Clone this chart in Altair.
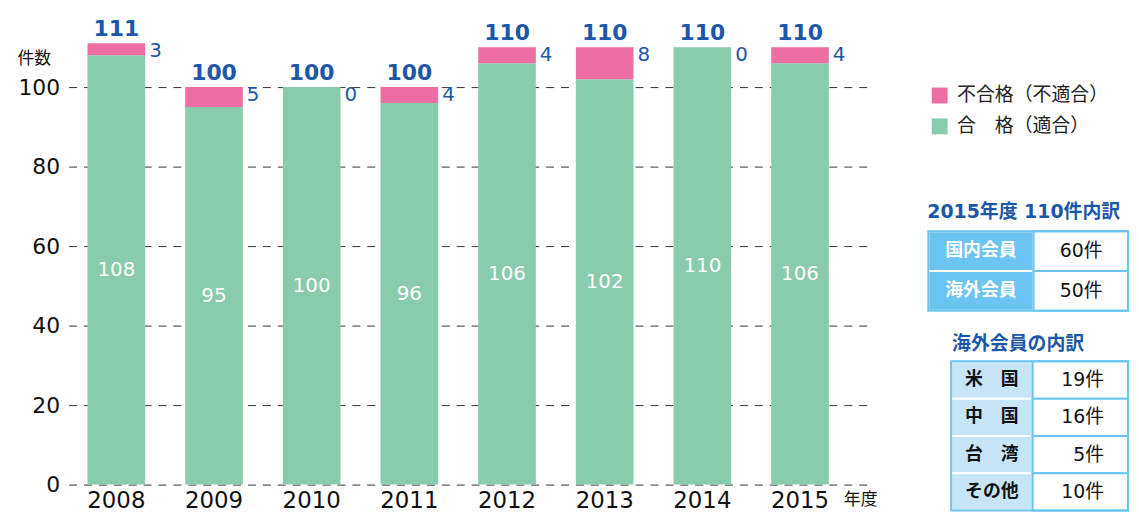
import altair as alt
import pandas as pd

# ---- data ----
years = ["2008", "2009", "2010", "2011", "2012", "2013", "2014", "2015"]
passed = [108, 95, 100, 96, 106, 102, 110, 106]
failed = [3, 5, 0, 4, 4, 8, 0, 4]
totals = [111, 100, 100, 100, 110, 110, 110, 110]

legend_labels = ["不合格（不適合）", "合　格（適合）"]
y_ticks = [0, 20, 40, 60, 80, 100]

t1_title = "2015年度 110件内訳"
t1_keys = ["国内会員", "海外会員"]
t1_vals = ["60件", "50件"]
t2_title = "海外会員の内訳"
t2_keys = ["米　国", "中　国", "台　湾", "その他"]
t2_vals = ["19件", "16件", "5件", "10件"]

# ---- styles ----
PINK = "#ec6fa3"
GREEN = "#88cbad"
BLUE = "#1d57a8"
TBLUE = "#6cc5f0"
TLIGHT = "#c6e6f8"
FONT = "DejaVu Sans, Noto Sans CJK JP"
JFONT = "Noto Sans CJK JP"

W, H = 810, 460

long_rows = []
for y, p, f in zip(years, passed, failed):
    long_rows.append({"year": y, "cat": legend_labels[1], "value": p, "ord": 0})
    long_rows.append({"year": y, "cat": legend_labels[0], "value": f, "ord": 1})
df_long = pd.DataFrame(long_rows)

df = pd.DataFrame({
    "year": years,
    "passed": passed,
    "failed": failed,
    "total": totals,
})
df["mid"] = df["passed"] / 2

x_enc = alt.X(
    "year:O",
    scale=alt.Scale(paddingInner=0.41, paddingOuter=0.326, align=0.297),
    axis=alt.Axis(title=None, labelAngle=0, labelFontSize=23, labelColor="#111",
                  labelFont=FONT, domain=False, ticks=False, labelPadding=5),
)
y_scale = alt.Scale(domain=[0, 115], nice=False)

bars = alt.Chart(df_long).mark_bar().encode(
    x=x_enc,
    y=alt.Y(
        "value:Q", stack="zero", scale=y_scale,
        axis=alt.Axis(values=y_ticks, grid=True, gridDash=[8, 7], gridColor="#333",
                      gridWidth=1, domain=False, ticks=False, labelFontSize=22,
                      labelColor="#111", labelFont=FONT, labelPadding=9,
                      title="件数", titleAngle=0, titleAlign="left",
                      titleBaseline="middle", titleX=-52, titleY=31,
                      titleFontSize=17, titleFontWeight="normal", titleFont=JFONT,
                      titleColor="#111"),
    ),
    color=alt.Color(
        "cat:N",
        scale=alt.Scale(domain=legend_labels, range=[PINK, GREEN]),
        legend=alt.Legend(title=None, orient="none", legendX=867, legendY=59,
                          symbolType="square", symbolSize=256, symbolStrokeWidth=0,
                          labelFontSize=19, labelFont=JFONT, labelOffset=8,
                          rowPadding=11, labelColor="#222", padding=0),
    ),
    order=alt.Order("ord:Q"),
)

base = alt.Chart(df)
total_text = base.mark_text(baseline="alphabetic", dy=-7, fontSize=22,
                            fontWeight="bold", color=BLUE, font=FONT).encode(
    x="year:O", y=alt.Y("total:Q"), text="total:Q")
fail_text = base.mark_text(align="left", baseline="middle", dx=33, dy=8,
                           fontSize=20, color=BLUE, font=FONT).encode(
    x="year:O", y=alt.Y("total:Q"), text="failed:Q")
pass_text = base.mark_text(baseline="middle", fontSize=20, color="white",
                           font=FONT).encode(
    x="year:O", y=alt.Y("mid:Q"), text="passed:Q")

nendo = alt.Chart(pd.DataFrame({"t": ["年度"]})).mark_text(
    fontSize=17, font=JFONT, color="#111", baseline="middle").encode(
    x=alt.value(797), y=alt.value(476), text="t:N")

# ---- tables (layout computed from row index) ----
cells = []
texts = []
# table 1
t1_top, t1_rh = 205, 40
for i, (k, v) in enumerate(zip(t1_keys, t1_vals)):
    y0 = t1_top + i * t1_rh
    cells.append({"x": 865, "x2": 971, "y": y0, "y2": y0 + t1_rh, "kind": "k1"})
    cells.append({"x": 971, "x2": 1066, "y": y0, "y2": y0 + t1_rh, "kind": "v"})
    texts.append({"x": 918, "y": y0 + t1_rh / 2, "t": k, "kind": "k1"})
    texts.append({"x": 1019, "y": y0 + t1_rh / 2, "t": v, "kind": "v1"})
# table 2
t2_top, t2_rh = 336, 37.5
for i, (k, v) in enumerate(zip(t2_keys, t2_vals)):
    y0 = t2_top + i * t2_rh
    cells.append({"x": 888, "x2": 970, "y": y0, "y2": y0 + t2_rh, "kind": "k2"})
    cells.append({"x": 970, "x2": 1066, "y": y0, "y2": y0 + t2_rh, "kind": "v"})
    texts.append({"x": 929, "y": y0 + t2_rh / 2, "t": k, "kind": "k2"})
    texts.append({"x": 1042, "y": y0 + t2_rh / 2, "t": v, "kind": "v2"})
cells_df = pd.DataFrame(cells)
texts_df = pd.DataFrame(texts)
frames_df = pd.DataFrame([
    {"x": 865, "x2": 1066, "y": t1_top, "y2": t1_top + 2 * t1_rh},
    {"x": 888, "x2": 1066, "y": t2_top, "y2": t2_top + 4 * t2_rh},
])

def rect_layer(data, **kw):
    return alt.Chart(data).mark_rect(**kw).encode(
        x=alt.X("x:Q", scale=None, axis=None), x2="x2:Q",
        y=alt.Y("y:Q", scale=None, axis=None), y2="y2:Q")

key1 = rect_layer(cells_df[cells_df.kind == "k1"], fill=TBLUE, stroke="white", strokeWidth=2)
key2 = rect_layer(cells_df[cells_df.kind == "k2"], fill=TLIGHT, stroke="white", strokeWidth=2)
valc = rect_layer(cells_df[cells_df.kind == "v"], fill="white", stroke=TBLUE, strokeWidth=2)
frames = rect_layer(frames_df, fillOpacity=0, stroke=TBLUE, strokeWidth=2)

def tx(kind, **kw):
    return alt.Chart(texts_df[texts_df.kind == kind]).mark_text(
        baseline="middle", **kw).encode(
        x=alt.X("x:Q", scale=None, axis=None),
        y=alt.Y("y:Q", scale=None, axis=None), text="t:N")

k1_text = tx("k1", fontSize=18, fontWeight="bold", color="white", font=JFONT)
v1_text = tx("v1", fontSize=19, color="#111", font=FONT)
k2_text = tx("k2", fontSize=18, fontWeight="bold", color="#111", font=JFONT)
v2_text = tx("v2", fontSize=19, color="#111", font=FONT, align="right")

titles_df = pd.DataFrame([
    {"x": 864, "y": 186, "t": t1_title},
    {"x": 889, "y": 319, "t": t2_title},
])
titles = alt.Chart(titles_df).mark_text(
    align="left", baseline="middle", fontSize=19, fontWeight="bold",
    color=BLUE, font=FONT).encode(
    x=alt.X("x:Q", scale=None, axis=None),
    y=alt.Y("y:Q", scale=None, axis=None), text="t:N")

chart = alt.layer(
    bars, total_text, fail_text, pass_text, nendo,
    key1, key2, valc, frames, k1_text, v1_text, k2_text, v2_text, titles,
).properties(
    width=W, height=H,
    autosize=alt.AutoSizeParams(type="none"),
    padding={"left": 61, "top": 18, "right": 259, "bottom": 26},
).configure_view(stroke=None)

chart.save("out.html", embed_options={"renderer": "svg", "actions": False})
